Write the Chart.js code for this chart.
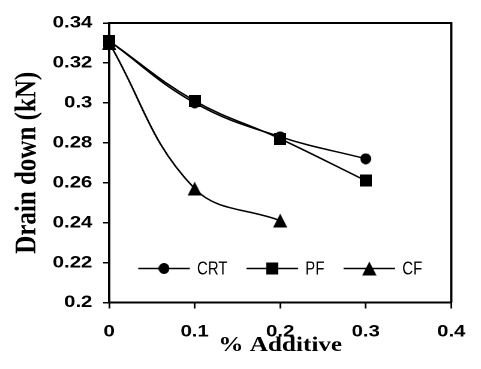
<!DOCTYPE html>
<html>
<head>
<meta charset="utf-8">
<script src="https://cdn.jsdelivr.net/npm/chart.js@4.4.1/dist/chart.umd.min.js"></script>
<style>
  html, body { margin: 0; padding: 0; background: #fff; overflow: hidden; }
  /* the original picture is stretched sideways, so the page is too */
  #wrap { width: 401px; height: 369px; transform: scaleX(1.1995); transform-origin: 0 0; }
</style>
</head>
<body>
<div id="wrap"><canvas id="drainChart"></canvas></div>
<script>
const additive = [0, 0.1, 0.2, 0.3];
const crtDrain = [0.331, 0.300, 0.283, 0.272];
const pfDrain = [0.331, 0.301, 0.282, 0.261];
const cfAdditive = [0, 0.1, 0.2];
const cfDrain = [0.330, 0.257, 0.241];
const seriesNames = ['CRT', 'PF', 'CF'];
const xTicks = [0, 0.1, 0.2, 0.3, 0.4];
const xTickLabels = ['0', '0.1', '0.2', '0.3', '0.4'];
const yTicks = [0.2, 0.22, 0.24, 0.26, 0.28, 0.3, 0.32, 0.34];
const yTickLabels = ['0.2', '0.22', '0.24', '0.26', '0.28', '0.3', '0.32', '0.34'];

// markers are drawn narrower so they come out round after the stretch
function makeMarker(shape, w, h) {
    const k = 4;
    const c = document.createElement('canvas');
    c.width = w * k;
    c.height = h * k;
    const g = c.getContext('2d');
    g.fillStyle = '#000';
    g.beginPath();
    if (shape === 'circle') {
        g.ellipse(c.width / 2, c.height / 2, c.width / 2, c.height / 2, 0, 0, Math.PI * 2);
    } else if (shape === 'square') {
        g.rect(0, 0, c.width, c.height);
    } else {
        g.moveTo(c.width / 2, 0);
        g.lineTo(c.width, c.height);
        g.lineTo(0, c.height);
        g.closePath();
    }
    g.fill();
    const img = new Image();
    img.src = c.toDataURL();
    img.width = w;
    img.height = h;
    return img;
}

const circleImg = makeMarker('circle', 9, 11);
const squareImg = makeMarker('square', 10, 12);
const triangleImg = makeMarker('triangle', 12, 14);

function toPoints(xs, ys) {
    return xs.map((x, i) => ({ x: x, y: ys[i] }));
}

// legend sits inside the plot, above the x axis
const legendInside = {
    id: 'legendInside',
    afterDatasetsDraw(chart) {
        const { ctx, chartArea } = chart;
        const lineLen = 43, textGap = 6, itemGap = 16, squash = 0.69;
        ctx.save();
        ctx.font = '18px "Liberation Sans", Arial, sans-serif';
        ctx.fillStyle = '#000';
        ctx.strokeStyle = '#000';
        ctx.lineWidth = 1.5;
        ctx.textBaseline = 'middle';

        const items = chart.data.datasets.map(ds => ({
            label: ds.label,
            img: ds.pointStyle,
            w: ctx.measureText(ds.label).width * squash
        }));
        let total = itemGap * (items.length - 1);
        items.forEach(it => { total += lineLen + textGap + it.w; });

        let x = (chartArea.left + chartArea.right) / 2 - total / 2;
        const y = chartArea.bottom - 34;
        items.forEach(it => {
            ctx.beginPath();
            ctx.moveTo(x, y);
            ctx.lineTo(x + lineLen, y);
            ctx.stroke();
            ctx.drawImage(it.img, x + lineLen / 2 - it.img.width / 2, y - it.img.height / 2, it.img.width, it.img.height);
            ctx.save();
            ctx.translate(x + lineLen + textGap, y + 1);
            ctx.scale(squash, 1);
            ctx.fillText(it.label, 0, 0);
            ctx.restore();
            x += lineLen + textGap + it.w + itemGap;
        });
        ctx.restore();
    }
};

// top and right edges of the plot box
const plotFrame = {
    id: 'plotFrame',
    afterDraw(chart) {
        const { ctx, chartArea } = chart;
        ctx.save();
        ctx.strokeStyle = '#000';
        ctx.lineWidth = 2;
        ctx.beginPath();
        ctx.moveTo(chartArea.left, chartArea.top);
        ctx.lineTo(chartArea.right, chartArea.top);
        ctx.lineTo(chartArea.right, chartArea.bottom);
        ctx.stroke();
        ctx.restore();
    }
};

const tickFont = { family: '"Liberation Sans", Arial, sans-serif', size: 17, weight: 'bold' };

async function buildChart() {
    await Promise.all([circleImg, squareImg, triangleImg].map(i => i.decode()));

    const lineBase = {
        borderColor: '#000',
        backgroundColor: '#000',
        borderWidth: 1.5,
        pointRadius: 5,
        tension: 0.4,
        fill: false,
        clip: false
    };

    new Chart(document.getElementById('drainChart'), {
        type: 'line',
        data: {
            datasets: [
                Object.assign({}, lineBase, { label: seriesNames[0], data: toPoints(additive, crtDrain), pointStyle: circleImg, order: 1 }),
                Object.assign({}, lineBase, { label: seriesNames[1], data: toPoints(additive, pfDrain), pointStyle: squareImg, order: 0 }),
                Object.assign({}, lineBase, { label: seriesNames[2], data: toPoints(cfAdditive, cfDrain), pointStyle: triangleImg, order: 2 })
            ]
        },
        options: {
            responsive: true,
            maintainAspectRatio: false,
            devicePixelRatio: 2,
            animation: false,
            layout: { padding: { top: 23, right: 15, left: 0, bottom: 0 } },
            plugins: {
                legend: { display: false },
                tooltip: { enabled: false }
            },
            scales: {
                x: {
                    type: 'linear',
                    min: 0,
                    max: 0.4,
                    afterBuildTicks: scale => { scale.ticks = xTicks.map(v => ({ value: v })); },
                    afterFit: scale => { scale.height = 66.5; },
                    grid: { drawOnChartArea: false, tickLength: 6, color: '#000', lineWidth: 1.5 },
                    border: { color: '#000', width: 2 },
                    ticks: {
                        color: '#000',
                        font: tickFont,
                        padding: 13,
                        maxRotation: 0,
                        autoSkip: false,
                        callback: (v, i) => xTickLabels[i]
                    },
                    title: {
                        display: true,
                        text: '% Additive',
                        color: '#000',
                        font: { family: '"Liberation Serif", "Times New Roman", serif', size: 21, weight: 'bold' },
                        padding: { top: 0, bottom: 11 }
                    }
                },
                y: {
                    min: 0.2,
                    max: 0.34,
                    afterBuildTicks: scale => { scale.ticks = yTicks.map(v => ({ value: v })); },
                    afterFit: scale => { scale.width = 91; },
                    grid: { drawOnChartArea: false, tickLength: 5, color: '#000', lineWidth: 1.5 },
                    border: { color: '#000', width: 2 },
                    ticks: {
                        color: '#000',
                        font: tickFont,
                        padding: 9,
                        autoSkip: false,
                        callback: (v, i) => yTickLabels[i]
                    },
                    title: {
                        display: true,
                        text: 'Drain down (kN)',
                        color: '#000',
                        font: { family: '"Liberation Serif", "Times New Roman", serif', size: 25, weight: 'bold' },
                        padding: 8
                    }
                }
            }
        },
        plugins: [legendInside, plotFrame]
    });
}

buildChart();
</script>
</body>
</html>
